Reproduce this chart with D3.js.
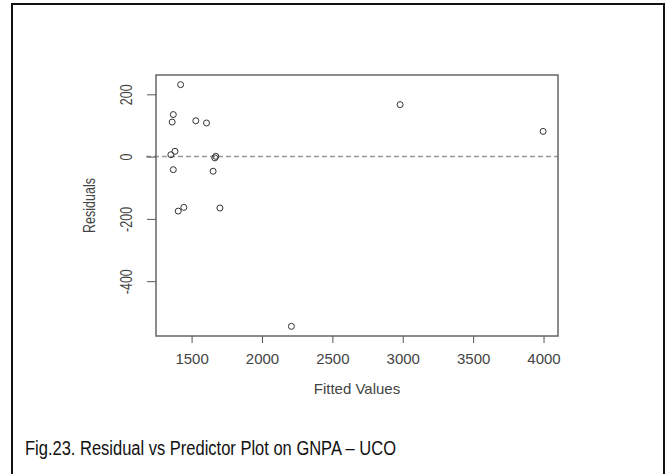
<!DOCTYPE html>
<html>
<head>
<meta charset="utf-8">
<script src="https://cdn.jsdelivr.net/npm/d3@7"></script>
<style>
  body { margin: 0; background: #fff; }
  svg { display: block; }
  .axis-text { font-family: 'Liberation Sans', Arial, sans-serif; fill: #444; }
</style>
</head>
<body>
<div id="wrapper"></div>
<script>
// data
const fittedValues = [1422, 1370, 1362, 1530, 1606, 1382, 1353, 1672, 1665, 1370, 1653, 1405, 1445, 1701, 2981, 3997, 2209]
const residuals = [231, 135, 111, 115, 108, 17, 6, 1, -4, -42, -47, -175, -163, -165, 167, 81, -545]
const xTicks = [1500, 2000, 2500, 3000, 3500, 4000]
const yTicks = [200, 0, -200, -400]
const caption = 'Fig.23. Residual vs Predictor Plot on GNPA – UCO'

const dataset = fittedValues.map((x, i) => ({ x: x, y: residuals[i] }))
const xAccessor = (d) => d.x
const yAccessor = (d) => d.y

// chart dimensions
let dimensions = {
  width: 665,
  height: 474,
  margin: { top: 75, right: 107, bottom: 138, left: 156 },
}
dimensions.boundedWidth = dimensions.width - dimensions.margin.left - dimensions.margin.right
dimensions.boundedHeight = dimensions.height - dimensions.margin.top - dimensions.margin.bottom

const wrapper = d3.select('#wrapper')
  .append('svg')
  .attr('width', dimensions.width)
  .attr('height', dimensions.height)

// outer frame
wrapper.append('rect')
  .attr('x', 12).attr('y', 4)
  .attr('width', 652).attr('height', 490)
  .attr('fill', 'none')
  .attr('stroke', '#111')
  .attr('stroke-width', 2)

const bounds = wrapper.append('g')
  .attr('transform', `translate(${dimensions.margin.left},${dimensions.margin.top})`)

// R style scales: data range padded by 4%
const padded = (ext) => {
  const p = (ext[1] - ext[0]) * 0.04
  return [ext[0] - p, ext[1] + p]
}
const xScale = d3.scaleLinear()
  .domain(padded(d3.extent(dataset, xAccessor)))
  .range([0, dimensions.boundedWidth])
const yScale = d3.scaleLinear()
  .domain(padded(d3.extent(dataset, yAccessor)))
  .range([dimensions.boundedHeight, 0])

// zero reference line
bounds.append('line')
  .attr('x1', -10).attr('x2', dimensions.boundedWidth)
  .attr('y1', yScale(0)).attr('y2', yScale(0))
  .attr('stroke', '#999')
  .attr('stroke-width', 1.5)
  .attr('stroke-dasharray', '5,3')

// points
bounds.selectAll('circle')
  .data(dataset)
  .enter().append('circle')
  .attr('cx', (d) => xScale(xAccessor(d)))
  .attr('cy', (d) => yScale(yAccessor(d)))
  .attr('r', 3)
  .attr('fill', 'none')
  .attr('stroke', '#333')
  .attr('stroke-width', 1)

// box
bounds.append('rect')
  .attr('width', dimensions.boundedWidth)
  .attr('height', dimensions.boundedHeight)
  .attr('fill', 'none')
  .attr('stroke', '#666')
  .attr('stroke-width', 1.5)

// x axis
const xAxis = bounds.append('g')
  .attr('transform', `translate(0,${dimensions.boundedHeight})`)
  .call(d3.axisBottom(xScale).tickValues(xTicks).tickSize(7).tickFormat((d) => String(d)))
xAxis.select('.domain').remove()
xAxis.selectAll('.tick line').attr('stroke', '#555')
xAxis.selectAll('.tick text')
  .attr('class', 'axis-text')
  .attr('y', 0).attr('dy', null)
  .attr('transform', 'translate(0,28)')
  .style('font-size', '15px')

bounds.append('text')
  .attr('class', 'axis-text')
  .attr('x', dimensions.boundedWidth / 2)
  .attr('y', 319)
  .attr('text-anchor', 'middle')
  .style('font-size', '15px')
  .text('Fitted Values')

// y axis
const yAxis = bounds.append('g')
  .call(d3.axisLeft(yScale).tickValues(yTicks).tickSize(9).tickFormat((d) => String(d)))
yAxis.select('.domain').remove()
yAxis.selectAll('.tick line').attr('stroke', '#555')
yAxis.selectAll('.tick text')
  .attr('class', 'axis-text')
  .attr('x', null).attr('dy', null)
  .attr('text-anchor', 'middle')
  .attr('transform', 'translate(-24,0) scale(1.3,1) rotate(-90)')
  .style('font-size', '12.5px')

bounds.append('text')
  .attr('class', 'axis-text')
  .attr('text-anchor', 'middle')
  .attr('transform', `translate(-61,${dimensions.boundedHeight / 2}) scale(1.3,1) rotate(-90)`)
  .style('font-size', '12.5px')
  .text('Residuals')

// caption (narrow face)
wrapper.append('text')
  .attr('x', 25).attr('y', 455)
  .attr('textLength', 371)
  .attr('lengthAdjust', 'spacingAndGlyphs')
  .style('font-family', "'Liberation Sans', Arial, sans-serif")
  .style('font-size', '20px')
  .attr('fill', '#111')
  .text(caption)
</script>
</body>
</html>
